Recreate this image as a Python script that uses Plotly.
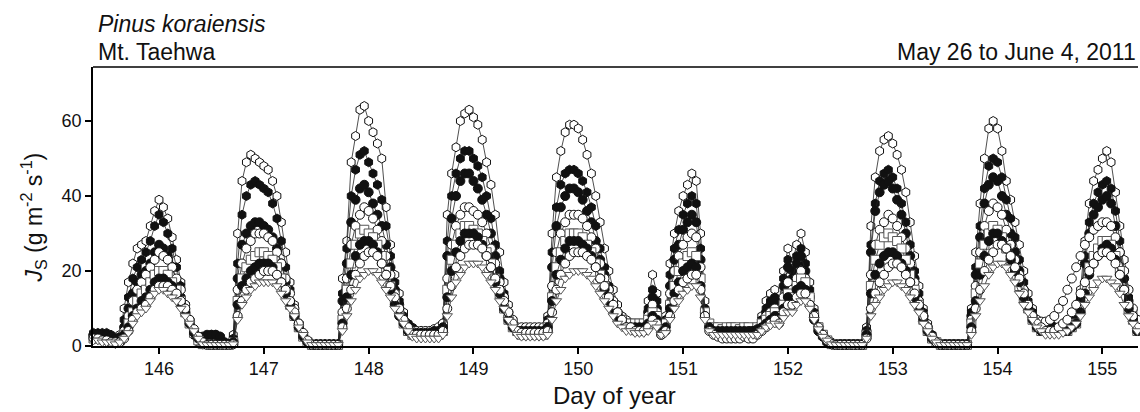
import numpy as np
import plotly.graph_objects as go

# ---- time axis: hourly samples, day-of-year ----
T0 = 145.375
N_PTS = 240
doy = T0 + np.arange(N_PTS) / 24.0
xticks = [146, 147, 148, 149, 150, 151, 152, 153, 154, 155]
yticks = [0, 20, 40, 60]

# ---- sap flux density series (g m-2 s-1) ----
# each row: one day, hours -12..+11 around the integer day tick
s1 = ([2.5, 2, 2] +
      [2, 1.5, 1.5, 3, 10, 17, 22, 26, 27, 28, 32, 36, 39, 37, 34, 29, 23, 17, 11, 6, 3, 1, 0.5, 0.5] +
      [0.5, 0.5, 0.5, 0.5, 0.5, 3, 30, 44, 49, 51, 50, 49, 48, 47, 44, 40, 33, 25, 17, 11, 6, 3, 1, 0.5] +
      [0.5, 0.5, 0.5, 0.5, 0.5, 0.5, 18, 28, 49, 56, 63, 64, 60, 57, 54, 50, 37, 27, 19, 14, 9, 6, 4, 4] +
      [4, 3.5, 3.5, 3.5, 4, 6, 35, 46, 53, 60, 62, 63, 61, 59, 55, 49, 43, 35, 25, 17, 11, 7, 5, 4] +
      [4, 4, 3.5, 3.5, 4, 8, 30, 45, 52, 57, 59, 59, 58, 55, 51, 46, 40, 33, 26, 20, 15, 11, 8, 7] +
      [6, 5, 5, 6, 12, 19, 14, 4, 8, 22, 30, 36, 40, 43, 46, 44, 30, 12, 6, 4, 3.5, 3, 3, 3] +
      [3, 3.5, 4, 3, 4, 5, 8, 12, 14, 15, 12, 20, 26, 22, 27, 30, 25, 17, 10, 5, 3, 1.5, 1, 0.5] +
      [0.5, 0.5, 0.5, 0.5, 0.5, 0.5, 5, 32, 45, 52, 55, 56, 54, 51, 47, 41, 33, 24, 16, 10, 6, 3, 1, 0.5] +
      [0.5, 0.5, 0.5, 0.5, 0.5, 0.5, 10, 25, 38, 50, 58, 60, 58, 52, 44, 39, 33, 27, 20, 14, 10, 7, 6, 6] +
      [6, 5, 5, 6, 6, 7, 8, 15, 28, 38, 44, 47, 50, 52, 49, 41, 32, 23, 15, 9, 5])

s2 = ([3.5, 3.5, 3.5] +
      [3.5, 3, 2, 2.5, 7, 13, 18, 21, 23, 25, 28, 32, 35, 33, 30, 26, 21, 16, 11, 7, 4, 2, 1, 2.5] +
      [3, 3, 2.5, 1, 0.5, 2, 22, 35, 40, 43, 44, 43, 42, 41, 38, 34, 28, 21, 15, 10, 6, 3, 1, 0.5] +
      [0.5, 0.5, 0.5, 0.5, 0.5, 0.5, 14, 26, 40, 47, 51, 52, 49, 46, 43, 39, 32, 24, 17, 12, 8, 6, 5, 4] +
      [4, 4, 4, 4, 4, 6, 28, 40, 46, 50, 52, 52, 50, 48, 45, 40, 34, 27, 20, 14, 9, 6, 5, 4] +
      [4, 4, 4, 4, 4, 7, 25, 37, 43, 46, 47, 47, 46, 44, 41, 37, 32, 26, 21, 16, 12, 9, 7, 6] +
      [5, 5, 4, 5, 10, 15, 12, 4, 7, 19, 26, 31, 35, 38, 40, 38, 26, 10, 6, 4, 4, 4, 4, 4] +
      [4, 4, 5, 4, 4, 5, 7, 10, 12, 13, 11, 18, 23, 20, 24, 26, 22, 15, 9, 5, 3, 1.5, 1, 0.5] +
      [0.5, 0.5, 0.5, 0.5, 0.5, 0.5, 4, 27, 38, 44, 46, 47, 45, 42, 38, 33, 27, 20, 14, 9, 5, 3, 1, 0.5] +
      [0.5, 0.5, 0.5, 0.5, 0.5, 0.5, 9, 21, 32, 42, 48, 50, 49, 45, 39, 34, 29, 23, 17, 12, 9, 7, 6, 6] +
      [6, 5, 5, 5, 6, 7, 7, 13, 24, 33, 38, 41, 43, 44, 42, 36, 28, 20, 13, 8, 5])

s3 = ([3, 3, 2.5] +
      [2.5, 2, 1.5, 2, 5, 10, 14, 17, 19, 20, 22, 25, 27, 26, 24, 21, 17, 13, 9, 6, 3, 1.5, 0.5, 0.5] +
      [0.5, 0.5, 0.5, 0.5, 0.5, 1.5, 18, 27, 30, 32, 33, 33, 32, 31, 29, 26, 22, 17, 12, 8, 5, 2.5, 1, 0.5] +
      [0.5, 0.5, 0.5, 0.5, 0.5, 0.5, 12, 22, 33, 39, 42, 43, 41, 38, 35, 32, 27, 21, 15, 11, 7, 5, 4, 3.5] +
      [3.5, 3.5, 3.5, 3.5, 4, 5, 24, 34, 40, 44, 46, 46, 44, 42, 39, 35, 30, 24, 18, 13, 8, 6, 4, 4] +
      [4, 4, 4, 4, 4, 6, 21, 32, 37, 40, 42, 42, 41, 39, 36, 33, 28, 23, 19, 15, 11, 8, 6, 5] +
      [5, 4, 4, 5, 9, 13, 10, 3, 6, 16, 23, 27, 31, 33, 35, 33, 23, 9, 5, 3.5, 3, 3, 3, 3] +
      [3, 3, 4, 3, 3, 4, 6, 9, 11, 12, 10, 16, 21, 18, 22, 24, 20, 13, 8, 4, 2.5, 1, 0.5, 0.5] +
      [0.5, 0.5, 0.5, 0.5, 0.5, 0.5, 4, 25, 36, 41, 43, 44, 42, 39, 35, 30, 24, 18, 12, 8, 4, 2, 1, 0.5] +
      [0.5, 0.5, 0.5, 0.5, 0.5, 0.5, 8, 19, 29, 38, 43, 45, 44, 40, 35, 30, 25, 20, 15, 11, 8, 6, 5, 5] +
      [5, 5, 4, 5, 5, 6, 7, 12, 22, 30, 35, 37, 39, 40, 38, 32, 25, 18, 12, 7, 4])

s4 = ([2.5, 2.5, 2] +
      [2, 1.5, 1, 2, 4, 8, 12, 15, 17, 19, 21, 23, 25, 24, 23, 21, 18, 15, 11, 7, 4, 2, 0.5, 0.5] +
      [0.5, 0.5, 0.5, 0.5, 0.5, 1, 15, 22, 26, 28, 30, 30, 30, 29, 28, 25, 22, 18, 14, 10, 6, 3, 1, 0.3] +
      [0.3, 0.3, 0.3, 0.3, 0.3, 0.3, 9, 18, 27, 32, 35, 37, 36, 34, 31, 28, 24, 19, 14, 10, 7, 5, 4, 4] +
      [4, 4, 4, 4.5, 5, 6, 18, 27, 32, 35, 37, 37, 36, 35, 33, 30, 26, 22, 17, 13, 9, 7, 5, 5] +
      [5, 5, 5, 5, 5, 6, 16, 25, 30, 33, 35, 35, 35, 34, 32, 29, 26, 22, 18, 15, 12, 9, 7, 6] +
      [6, 5, 5, 5, 8, 11, 9, 4, 6, 14, 20, 24, 27, 29, 30, 29, 21, 9, 5, 3.5, 3, 3, 3, 3] +
      [3, 3, 3.5, 3, 3, 4, 6, 8, 9, 10, 9, 13, 17, 15, 18, 20, 18, 13, 8, 5, 3, 1.5, 0.5, 0.5] +
      [0.5, 0.5, 0.5, 0.5, 0.5, 0.5, 3, 19, 27, 31, 33, 35, 34, 32, 29, 26, 22, 17, 12, 8, 5, 2.5, 1, 0.5] +
      [0.5, 0.5, 0.5, 0.5, 0.5, 0.5, 7, 16, 25, 32, 36, 38, 37, 35, 31, 27, 23, 19, 15, 11, 8, 7, 6.5, 6.5] +
      [7, 8, 10, 12, 15, 18, 21, 24, 27, 29, 31, 32, 33, 33, 32, 29, 25, 20, 15, 10, 7])

s5 = ([2, 2, 2] +
      [2, 1.5, 1, 1.5, 3, 6, 9, 12, 14, 15, 17, 19, 20, 20, 19, 17, 15, 12, 9, 6, 3.5, 1.5, 0.5, 0.5] +
      [0.3, 0.3, 0.3, 0.3, 0.3, 1, 12, 18, 21, 23, 24, 25, 25, 24, 23, 21, 18, 15, 11, 8, 5, 2.5, 1, 0.3] +
      [0.3, 0.3, 0.3, 0.3, 0.3, 0.3, 7, 15, 22, 27, 30, 31, 30, 29, 27, 24, 20, 16, 12, 9, 6, 4, 3, 3] +
      [3, 3, 3, 3, 3, 4, 15, 23, 27, 30, 32, 32, 31, 30, 28, 25, 22, 18, 14, 10, 7, 5, 4, 3] +
      [3, 3, 3, 3, 3, 5, 13, 21, 25, 28, 30, 30, 30, 29, 27, 25, 22, 19, 16, 13, 10, 8, 7, 6] +
      [6, 6, 6, 6, 7, 9, 8, 5, 6, 11, 16, 20, 22, 24, 25, 24, 18, 9, 6, 5, 5, 4.5, 5, 5] +
      [5, 4.5, 5, 5, 4, 5, 6, 7, 8, 9, 8, 11, 14, 13, 16, 18, 17, 13, 8, 5, 3, 1.5, 0.5, 0.3] +
      [0.3, 0.3, 0.3, 0.3, 0.3, 0.3, 3, 16, 23, 27, 29, 30, 29, 28, 26, 23, 19, 15, 11, 7, 4, 2, 1, 0.3] +
      [0.3, 0.3, 0.3, 0.3, 0.3, 0.3, 6, 14, 22, 27, 30, 32, 31, 29, 26, 23, 20, 16, 13, 10, 7, 5, 4, 4] +
      [4, 4, 4, 4, 4, 5, 6, 10, 16, 21, 24, 26, 28, 28, 27, 24, 20, 15, 10, 7, 4])

s6 = ([3, 3, 3] +
      [3, 2.5, 2, 2, 3, 5, 8, 10, 12, 13, 15, 17, 18, 18, 17, 16, 14, 11, 9, 6, 3.5, 2, 2.5, 3] +
      [3, 3, 2.5, 1, 0.5, 1, 11, 16, 18, 20, 21, 22, 22, 22, 21, 19, 17, 14, 11, 8, 5, 2.5, 1, 0.3] +
      [0.3, 0.3, 0.3, 0.3, 0.3, 0.3, 6, 13, 19, 24, 27, 28, 28, 27, 25, 22, 19, 15, 11, 8, 6, 4, 3.5, 3.5] +
      [3.5, 3.5, 3.5, 4, 4, 5, 13, 20, 25, 28, 30, 30, 30, 29, 27, 24, 21, 17, 14, 10, 7, 5, 4, 4] +
      [4, 4, 4, 4, 4, 5, 12, 19, 23, 26, 28, 28, 28, 27, 26, 24, 21, 18, 15, 12, 10, 8, 6, 5] +
      [5, 5, 5, 5, 6, 8, 7, 4, 5, 10, 14, 17, 20, 21, 22, 21, 16, 8, 5, 4, 4, 4, 4, 4] +
      [4, 4, 4, 4, 4, 4.5, 5, 6, 7, 8, 7, 10, 13, 12, 15, 16, 15, 11, 7, 4, 2.5, 1, 0.5, 0.3] +
      [0.3, 0.3, 0.3, 0.3, 0.3, 0.3, 3, 14, 19, 22, 24, 25, 25, 24, 22, 20, 17, 13, 10, 7, 4, 2, 1, 0.3] +
      [0.3, 0.3, 0.3, 0.3, 0.3, 0.3, 5, 12, 19, 24, 28, 30, 30, 28, 26, 23, 20, 17, 13, 10, 7, 5, 4, 4] +
      [4, 4, 4, 4, 4, 5, 6, 9, 14, 19, 22, 24, 26, 27, 26, 23, 19, 15, 10, 7, 4])

s7 = ([2, 2, 1.5] +
      [1.5, 1, 1, 1, 2, 4, 7, 9, 10, 11, 13, 15, 16, 16, 16, 15, 14, 12, 10, 7, 4.5, 2.5, 1, 0.3] +
      [0.3, 0.3, 0.3, 0.3, 0.3, 0.5, 8, 12, 15, 17, 18, 19, 20, 20, 20, 19, 17, 15, 12, 9, 6, 3.5, 1.5, 0.3] +
      [0.3, 0.3, 0.3, 0.3, 0.3, 0.3, 5, 10, 15, 19, 22, 24, 25, 25, 24, 22, 19, 16, 13, 10, 7, 5, 3, 3] +
      [3, 3, 3, 3, 3, 4, 10, 16, 21, 24, 26, 27, 27, 27, 26, 24, 21, 18, 15, 12, 9, 6, 4, 3.5] +
      [3.5, 3.5, 3.5, 3.5, 3.5, 4, 9, 15, 19, 22, 24, 25, 25, 25, 24, 23, 21, 18, 16, 13, 11, 9, 7, 5] +
      [5, 4, 4, 4, 5, 7, 6, 3, 4, 8, 12, 15, 17, 18, 19, 19, 15, 8, 4, 3, 2.5, 2, 2, 2] +
      [2, 2, 2.5, 2, 2, 3, 4, 5, 6, 7, 6, 9, 11, 11, 13, 14, 14, 11, 8, 5, 3, 1.5, 0.5, 0.3] +
      [0.3, 0.3, 0.3, 0.3, 0.3, 0.3, 2, 10, 14, 17, 19, 21, 22, 22, 21, 19, 17, 14, 11, 8, 5, 2.5, 1, 0.3] +
      [0.3, 0.3, 0.3, 0.3, 0.3, 0.3, 4, 10, 15, 20, 23, 25, 27, 27, 26, 24, 21, 18, 14, 11, 8, 6, 5, 4] +
      [4, 4, 5, 6, 7, 9, 11, 14, 17, 20, 22, 24, 25, 25, 24, 22, 19, 15, 11, 8, 5])

s8 = ([1.5, 1.5, 1] +
      [1, 1, 0.5, 1, 2, 3.5, 6, 8, 9, 10, 12, 14, 15, 15, 14, 13, 12, 10, 8, 6, 4, 2, 0.5, 0.3] +
      [0.3, 0.3, 0.3, 0.3, 0.3, 0.5, 7, 11, 13, 15, 16, 17, 17, 17, 17, 16, 14, 12, 10, 8, 5, 3, 1, 0.3] +
      [0.3, 0.3, 0.3, 0.3, 0.3, 0.3, 4, 8, 12, 15, 18, 19, 20, 20, 19, 17, 15, 13, 10, 8, 6, 4, 2.5, 2] +
      [2, 2, 2, 2, 2, 3, 8, 13, 17, 19, 21, 22, 22, 22, 21, 19, 17, 15, 12, 10, 7, 5, 3, 2.5] +
      [2.5, 2.5, 2.5, 2.5, 2.5, 3, 7, 12, 15, 18, 19, 20, 20, 20, 19, 18, 16, 14, 12, 10, 8, 6, 5, 4] +
      [4, 3.5, 3.5, 3.5, 4, 6, 5, 3, 3.5, 7, 10, 12, 14, 15, 16, 16, 13, 7, 4, 3, 3, 3, 3, 3] +
      [3, 3, 3, 3, 3, 3, 4, 5, 5.5, 6, 5.5, 7.5, 9, 9, 11, 12, 12, 10, 7, 4.5, 2.5, 1.5, 0.5, 0.3] +
      [0.3, 0.3, 0.3, 0.3, 0.3, 0.3, 2, 8, 11, 13, 15, 16, 17, 17, 16, 15, 13, 11, 9, 6, 4, 2, 1, 0.3] +
      [0.3, 0.3, 0.3, 0.3, 0.3, 0.3, 3, 8, 12, 16, 19, 21, 22, 22, 21, 19, 17, 14, 11, 9, 7, 5, 4, 3] +
      [3, 3, 3, 3.5, 4, 5, 6, 8, 11, 13, 15, 17, 18, 18, 17, 16, 14, 11, 8, 6, 4])

series = [s1, s2, s3, s4, s5, s6, s7, s8]
for s in series:
    assert len(s) == N_PTS, len(s)

# marker styles (symbol, fill, outline)
styles = [
    ("hexagon", "white", "#111111"),
    ("hexagon", "#111111", "#111111"),
    ("circle", "#111111", "#111111"),
    ("circle", "white", "#111111"),
    ("square", "white", "#555555"),
    ("circle", "#111111", "#111111"),
    ("circle", "white", "#111111"),
    ("triangle-down", "white", "#555555"),
]

FONT = "Arial, Liberation Sans, Helvetica, sans-serif"

fig = go.Figure()
for s, (sym, fill, edge) in zip(series, styles):
    fig.add_trace(go.Scatter(
        x=doy, y=s, mode="lines+markers",
        line=dict(color="#222222", width=0.8),
        marker=dict(symbol=sym, size=9, color=fill,
                    line=dict(color=edge, width=1)),
        cliponaxis=False, showlegend=False, hoverinfo="skip",
    ))

axis_common = dict(
    showgrid=False, zeroline=False, showline=True, linecolor="black",
    linewidth=1.5, ticks="outside", ticklen=6, tickwidth=1.5,
    tickcolor="black", tickfont=dict(family=FONT, size=18, color="#111111"),
)

fig.update_layout(
    width=1140, height=412,
    margin=dict(l=93, r=2, t=67, b=66),
    paper_bgcolor="white", plot_bgcolor="white",
    font=dict(family=FONT, color="#111111"),
    xaxis=dict(range=[145.37, 155.34], tickvals=xticks, **axis_common),
    yaxis=dict(range=[0, 74.4], tickvals=yticks, **axis_common),
    shapes=[dict(type="line", xref="paper", yref="paper", x0=0, x1=1,
                 y0=1, y1=1, line=dict(color="black", width=1.5))],
    annotations=[
        dict(text="<i>Pinus koraiensis</i>", xref="paper", yref="paper",
             x=0.003, y=1.100, xanchor="left", yanchor="bottom",
             showarrow=False, font=dict(size=23)),
        dict(text="Mt. Taehwa", xref="paper", yref="paper",
             x=0.003, y=1.001, xanchor="left", yanchor="bottom",
             showarrow=False, font=dict(size=23)),
        dict(text="May 26 to June 4, 2011", xref="paper", yref="paper",
             x=1.0, y=1.001, xanchor="right", yanchor="bottom",
             showarrow=False, font=dict(size=23)),
        dict(text="Day of year", xref="paper", yref="paper",
             x=0.4995, y=-0.176, xanchor="center", yanchor="middle",
             showarrow=False, font=dict(size=24)),
        dict(text="<i>J</i><sub>S</sub> (g m<sup>-2</sup> s<sup>-1</sup>)",
             xref="paper", yref="paper", x=-0.057, y=0.462,
             xanchor="center", yanchor="middle", textangle=-90,
             showarrow=False, font=dict(size=23)),
    ],
)

fig.write_html("out.html", config={"displayModeBar": False},
               post_script="document.body.style.margin='0';")
